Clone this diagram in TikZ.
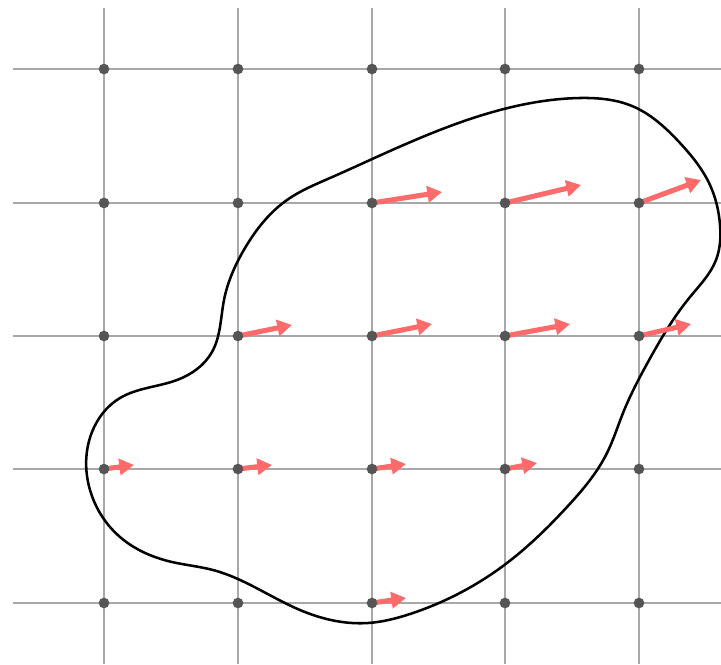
\documentclass[tikz,border=0pt]{standalone}
\usetikzlibrary{arrows.meta,hobby}
\definecolor{gridc}{HTML}{A8A8A8}
\definecolor{dotc}{HTML}{555555}
\definecolor{vecc}{HTML}{FF6B6B}
\tikzset{
  gridline/.style={draw=gridc, line width=1.1pt},
  griddot/.style={fill=dotc},
  vec/.style={draw=vecc, line width=3.8pt, -{Triangle[length=11pt,width=12pt]}},
  outline/.style={draw=black, line width=1.9pt}
}
\begin{document}
\begin{tikzpicture}[x=0.75pt,y=-0.75pt]
\useasboundingbox (0,0) rectangle (721,664);
% grid
\foreach \x in {104,238,372,505,639} \draw[gridline] (\x,8) -- (\x,664);
\foreach \y in {69,203,336,469,603} \draw[gridline] (13,\y) -- (721,\y);
% curve
\draw[outline, use Hobby shortcut, closed=true]
 (370,160) .. (500,110) .. (580,98) .. (632,106) .. (680,143) .. (710,185) .. (720,225)
 .. (716,260) .. (690,297) .. (648,362) .. (623,413) .. (607,453) .. (567,507) .. (507,563)
 .. (410,614) .. (368,623) .. (300,610) .. (213,570) .. (172,562) .. (120,537) .. (90,490)
 .. (92,432) .. (120,398) .. (177,380) .. (212,352) .. (224,300) .. (245,248) .. (287,200) .. (330,178);
% vectors
\coordinate (a1) at (372,203); \coordinate (b1) at (442,192);
\coordinate (a2) at (505,203); \coordinate (b2) at (581,185);
\coordinate (a3) at (639,203); \coordinate (b3) at (701,180);
\coordinate (a4) at (238,336); \coordinate (b4) at (292,325);
\coordinate (a5) at (372,336); \coordinate (b5) at (432,324);
\coordinate (a6) at (505,336); \coordinate (b6) at (570,324);
\coordinate (a7) at (639,336); \coordinate (b7) at (691,324);
\coordinate (a8) at (104,469); \coordinate (b8) at (134,465);
\coordinate (a9) at (238,469); \coordinate (b9) at (272,465);
\coordinate (a10) at (372,469); \coordinate (b10) at (406,464);
\coordinate (a11) at (505,469); \coordinate (b11) at (537,463);
\coordinate (a12) at (372,603); \coordinate (b12) at (406,598);
\foreach \i in {1,...,12} \draw[vec] (a\i) -- (b\i);
% dots
\foreach \x in {104,238,372,505,639}
  \foreach \y in {69,203,336,469,603}
    \fill[griddot] (\x,\y) circle (4pt);
\end{tikzpicture}
\end{document}
